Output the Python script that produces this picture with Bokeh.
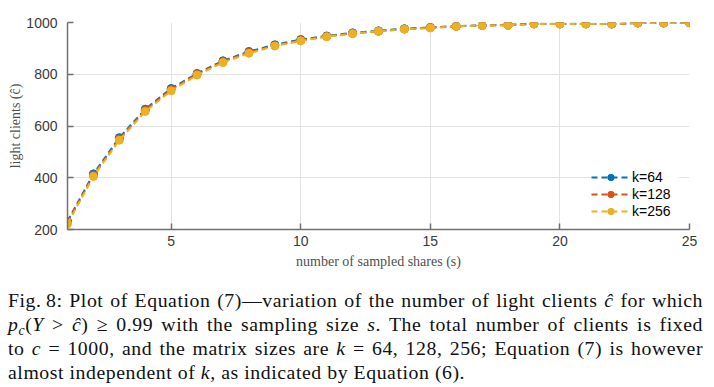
from bokeh.plotting import figure
from bokeh.models import Div, FixedTicker
from bokeh.layouts import column
from bokeh.embed import file_html
from bokeh.resources import INLINE

# ---- data ----
sampled_shares = list(range(1, 26))
k64 = [232, 415, 555, 665, 745, 803, 852, 888, 914, 934, 948, 960, 968, 976, 981,
       986, 989, 991, 995, 995, 995, 994, 998, 998, 999]
k128 = [228, 410, 550, 661, 741, 800, 849, 885, 911, 931, 946, 958, 966, 975, 980,
        985, 988, 990, 994, 994, 994, 994, 998, 998, 999]
k256 = [222, 405, 545, 656, 736, 797, 845, 881, 909, 929, 945, 957, 966, 974, 979,
        985, 988, 990, 994, 994, 994, 994, 998, 998, 999]
series_names = ["k=64", "k=128", "k=256"]
series_values = [k64, k128, k256]
series_colors = ["#0072BD", "#D95319", "#EDB120"]
x_ticks = [5, 10, 15, 20, 25]
y_ticks = [200, 400, 600, 800, 1000]

p = figure(width=707, height=283, x_range=(1, 25), y_range=(200, 1000),
           output_backend="svg", toolbar_location=None,
           min_border_left=67, min_border_right=18, min_border_top=22,
           min_border_bottom=54)
p.outline_line_color = None
p.background_fill_color = "white"

for name, vals, col in zip(series_names, series_values, series_colors):
    p.line(sampled_shares, vals, line_color=col, line_width=2, line_dash="6 4",
           legend_label=name)
    p.scatter(sampled_shares, vals, size=8, marker="circle", fill_color=col,
              line_color=col, legend_label=name)

for ax, ticks in ((p.xaxis, x_ticks), (p.yaxis, y_ticks)):
    ax.ticker = FixedTicker(ticks=ticks)
    ax.minor_tick_line_color = None
    ax.major_tick_in = 6
    ax.major_tick_out = 0
    ax.axis_line_color = "#707070"
    ax.axis_line_width = 1.5
    ax.major_tick_line_color = "#707070"
    ax.major_tick_line_width = 1.5
    ax.major_label_text_font = "Liberation Sans"
    ax.major_label_text_font_size = "14px"
    ax.major_label_text_color = "#3a3a3a"
    ax.axis_label_text_font = "Liberation Serif"
    ax.axis_label_text_font_size = "14px"
    ax.axis_label_text_font_style = "normal"
    ax.axis_label_text_color = "#505050"

p.xaxis.axis_label = "number of sampled shares (s)"
p.yaxis.axis_label = "light clients (ĉ)"
p.xaxis.major_label_standoff = 6
p.yaxis.major_label_standoff = 10
p.xaxis.axis_label_standoff = 5
p.yaxis.axis_label_standoff = 0

p.xgrid.ticker = FixedTicker(ticks=x_ticks)
p.ygrid.ticker = FixedTicker(ticks=y_ticks)
p.grid.grid_line_color = "#e3e3e3"
p.grid.grid_line_width = 1

lg = p.legend[0]
lg.location = "bottom_right"
lg.border_line_color = None
lg.background_fill_color = "white"
lg.background_fill_alpha = 1.0
lg.label_text_font = "Liberation Sans"
lg.label_text_font_size = "14px"
lg.label_text_color = "black"
lg.glyph_width = 39
lg.glyph_height = 16
lg.label_height = 16
lg.label_width = 47
lg.label_standoff = 2
lg.spacing = 1
lg.padding = 3
lg.margin = 10

caption_style = ("font-family:'Liberation Serif',serif;font-size:19.8px;line-height:24px;"
                 "letter-spacing:0.55px;color:#111;width:695px;margin-left:3px;")
just = "text-align:justify;text-align-last:justify;white-space:nowrap;"
sub = "font-size:70%;vertical-align:-0.3em;line-height:0;font-style:italic;"
caption_html = (
    f'<div style="{caption_style}">'
    f'<div style="{just}">Fig.&thinsp;8: Plot of Equation (7)—variation of the number of light clients <i>ĉ</i> for which</div>'
    f'<div style="{just}"><i>p</i><span style="{sub}">c</span>(<i>Y</i> &gt; <i>ĉ</i>) ≥ 0.99 with the sampling size <i>s</i>. The total number of clients is fixed</div>'
    f'<div style="{just}">to <i>c</i> = 1000, and the matrix sizes are <i>k</i> = 64, 128, 256; Equation (7) is however</div>'
    f'<div>almost independent of <i>k</i>, as indicated by Equation (6).</div>'
    '</div>'
)
caption = Div(text=caption_html, width=700, height=96)

layout = column(p, caption, spacing=0)

html = file_html(layout, INLINE)
html = html.replace("<head>", "<head><style>html,body{overflow:hidden;}</style>", 1)
open("out.html", "w").write(html)
